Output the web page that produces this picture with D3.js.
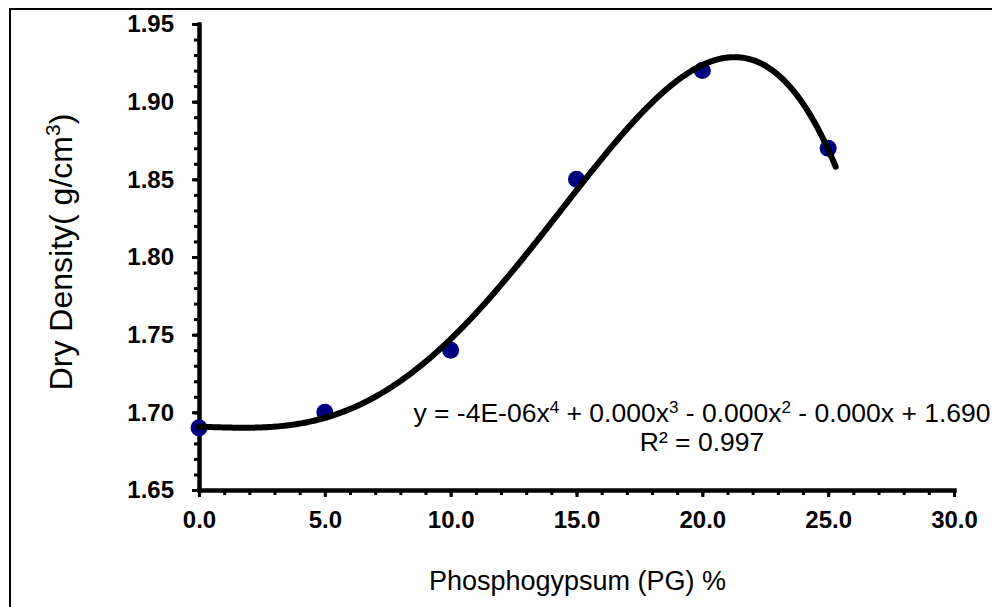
<!DOCTYPE html>
<html>
<head>
<meta charset="utf-8">
<script src="https://cdn.jsdelivr.net/npm/d3@7"></script>
<style>
  body { margin: 0; background: #fff; }
  svg { display: block; font-family: "Liberation Sans", Arial, sans-serif; }
</style>
</head>
<body>
<svg id="chart" width="992" height="607"></svg>
<script>
// measured points: PG content (%) vs dry density (g/cm3)
const pgContent = [0, 5, 10, 15, 20, 25];
const dryDensity = [1.69, 1.70, 1.74, 1.85, 1.92, 1.87];

const xTicks = [0, 5, 10, 15, 20, 25, 30];
const yTicks = [1.65, 1.70, 1.75, 1.80, 1.85, 1.90, 1.95];
const trendEnd = 25.3; // trendline runs a little past the last point

const equationText = ["y = -4E-06x", "4", " + 0.000x", "3", " - 0.000x", "2", " - 0.000x + 1.690"];
const r2Text = "R² = 0.997";

// least squares polynomial fit (the Excel trendline)
function polyfit(xs, ys, deg) {
  const n = deg + 1;
  const A = [];
  for (let i = 0; i < n; i++) {
    A.push(new Array(n + 1).fill(0));
    for (let j = 0; j < n; j++) {
      A[i][j] = d3.sum(xs, (x) => Math.pow(x, i + j));
    }
    A[i][n] = d3.sum(xs, (x, k) => ys[k] * Math.pow(x, i));
  }
  for (let c = 0; c < n; c++) {
    let p = c;
    for (let r = c + 1; r < n; r++) if (Math.abs(A[r][c]) > Math.abs(A[p][c])) p = r;
    [A[c], A[p]] = [A[p], A[c]];
    for (let r = 0; r < n; r++) {
      if (r === c) continue;
      const f = A[r][c] / A[c][c];
      for (let k = c; k <= n; k++) A[r][k] -= f * A[c][k];
    }
  }
  return A.map((row, i) => row[n] / row[i]);
}

const coef = polyfit(pgContent, dryDensity, 4);
const poly = (v) => coef.reduce((s, c, i) => s + c * Math.pow(v, i), 0);

const svg = d3.select("#chart");

// outer chart border (right/bottom fall outside the picture)
svg.append("rect")
  .attr("x", 10).attr("y", 9)
  .attr("width", 1100).attr("height", 700)
  .attr("fill", "none")
  .attr("stroke", "#000")
  .attr("stroke-width", 2);

const plot = { left: 199, right: 954, top: 24, bottom: 490 };

const x = d3.scaleLinear().domain([0, 30]).range([plot.left, plot.right]);
const y = d3.scaleLinear().domain([1.65, 1.95]).range([plot.bottom, plot.top]);

// minor ticks
svg.append("g")
  .attr("transform", `translate(0,${plot.bottom})`)
  .call(d3.axisBottom(x).tickValues(d3.range(0, 31, 1)).tickSize(5).tickFormat(""))
  .call((g) => g.select(".domain").remove())
  .call((g) => g.selectAll("line").attr("stroke-width", 3));

svg.append("g")
  .attr("transform", `translate(${plot.left},0)`)
  .call(d3.axisLeft(y).tickValues(d3.range(0, 31).map((i) => 1.65 + i * 0.01)).tickSize(5).tickFormat(""))
  .call((g) => g.select(".domain").remove())
  .call((g) => g.selectAll("line").attr("stroke-width", 3));

// major ticks + labels
const xAxis = svg.append("g")
  .attr("transform", `translate(0,${plot.bottom})`)
  .call(d3.axisBottom(x).tickValues(xTicks).tickSize(7).tickSizeOuter(0).tickPadding(14).tickFormat(d3.format(".1f")));

const yAxis = svg.append("g")
  .attr("transform", `translate(${plot.left},0)`)
  .call(d3.axisLeft(y).tickValues(yTicks).tickSize(7).tickSizeOuter(0).tickPadding(18).tickFormat(d3.format(".2f")));

[xAxis, yAxis].forEach((g) => {
  g.select(".domain").attr("stroke-width", 4.5).attr("stroke-linecap", "square");
  g.selectAll(".tick line").attr("stroke-width", 3);
  g.selectAll(".tick text")
    .attr("font-family", "Liberation Sans, Arial, sans-serif")
    .attr("font-size", 24)
    .attr("font-weight", "bold")
    .attr("fill", "#000");
});

// axis titles
svg.append("text")
  .attr("x", (plot.left + plot.right) / 2 + 1)
  .attr("y", 590)
  .attr("text-anchor", "middle")
  .attr("font-size", 27)
  .text("Phosphogypsum (PG) %");

const yTitle = svg.append("text")
  .attr("transform", `translate(72,252) rotate(-90)`)
  .attr("text-anchor", "middle")
  .attr("font-size", 32);
yTitle.append("tspan").text("Dry Density( g/cm");
yTitle.append("tspan").attr("dy", -12).attr("font-size", 21).text("3");
yTitle.append("tspan").attr("dy", 12).text(")");

// data points (Excel draws them under the trendline)
svg.append("g")
  .selectAll("circle")
  .data(pgContent)
  .join("circle")
  .attr("cx", (d) => x(d))
  .attr("cy", (d, i) => y(dryDensity[i]))
  .attr("r", 8.5)
  .attr("fill", "#000080");

// trendline
const trendX = d3.range(0, trendEnd + 1e-9, 0.05);
svg.append("path")
  .datum(trendX)
  .attr("fill", "none")
  .attr("stroke", "#000")
  .attr("stroke-width", 6)
  .attr("stroke-linecap", "round")
  .attr("d", d3.line().x((d) => x(d)).y((d) => y(poly(d))));

// equation label
const eq = svg.append("text")
  .attr("x", 702)
  .attr("y", 422)
  .attr("text-anchor", "middle")
  .attr("font-size", 26.5);
equationText.forEach((t, i) => {
  const sup = i % 2 === 1;
  eq.append("tspan")
    .attr("dy", sup ? -9 : (i > 0 ? 9 : 0))
    .attr("font-size", sup ? 17 : 26.5)
    .text(t);
});

svg.append("text")
  .attr("x", 702)
  .attr("y", 451)
  .attr("text-anchor", "middle")
  .attr("font-size", 26.5)
  .text(r2Text);
</script>
</body>
</html>
